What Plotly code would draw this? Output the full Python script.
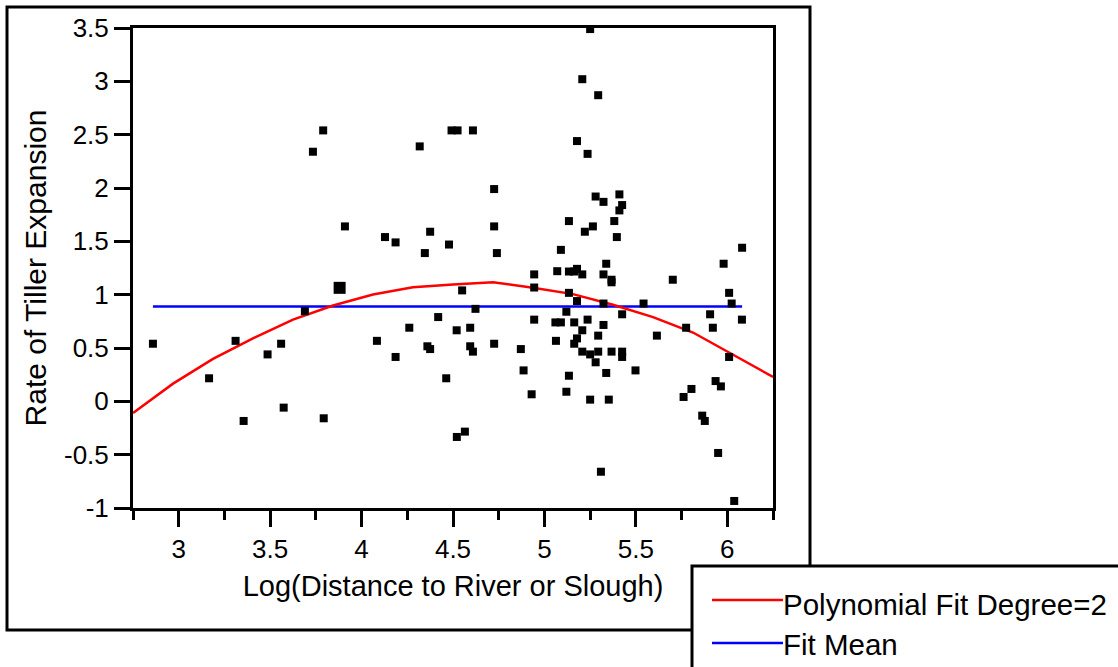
import plotly.graph_objects as go

# ---------------- data ----------------
pts_x = [2.859, 3.166, 3.311, 3.355, 3.486, 3.56, 3.574, 3.69, 3.734, 3.79, 3.793,
         3.909, 4.084, 4.128, 4.186, 4.186, 4.261, 4.318, 4.346, 4.36, 4.375, 4.375,
         4.419, 4.463, 4.478, 4.492, 4.525, 4.52, 4.521, 4.55, 4.565, 4.594, 4.594,
         4.609, 4.609, 4.623, 4.725, 4.725, 4.725, 4.74, 4.871, 4.886, 4.93, 4.944,
         4.944, 4.944, 5.06, 5.063, 5.07, 5.09, 5.09, 5.12, 5.12, 5.134, 5.134, 5.134,
         5.134, 5.163, 5.163, 5.163, 5.178, 5.178, 5.178, 5.178, 5.207, 5.207, 5.207,
         5.207, 5.221, 5.236, 5.236, 5.25, 5.25, 5.25, 5.265, 5.28, 5.28, 5.294, 5.294,
         5.294, 5.309, 5.323, 5.323, 5.323, 5.323, 5.338, 5.338, 5.352, 5.367, 5.367,
         5.367, 5.382, 5.396, 5.41, 5.41, 5.425, 5.425, 5.425, 5.425, 5.498, 5.542,
         5.615, 5.702, 5.761, 5.775, 5.804, 5.863, 5.877, 5.906, 5.921, 5.936, 5.95,
         5.965, 5.98, 6.01, 6.01, 6.024, 6.038, 6.08, 6.081]
pts_y = [0.54, 0.216, 0.567, -0.184, 0.44, 0.54, -0.059, 0.845, 2.34, 2.54, -0.159,
         1.64, 0.567, 1.54, 1.49, 0.416, 0.69, 2.39, 1.39, 0.516, 0.49, 1.59,
         0.79, 0.216, 1.47, 2.54, 2.54, 0.666, -0.334, 1.04, -0.284, 0.69, 0.516,
         0.466, 2.54, 0.867, 1.99, 1.64, 0.54, 1.39, 0.49, 0.29, 0.066, 1.19,
         1.067, 0.766, 0.74, 0.567, 1.22, 1.42, 0.74, 0.84, 0.09, 1.69, 1.217, 1.017,
         0.24, 1.217, 0.74, 0.54, 1.242, 2.44, 0.94, 0.59, 3.02, 1.19, 0.666,
         0.466, 1.59, 2.32, 0.766, 3.49, 0.44, 0.016, 1.64, 1.92, 0.366, 2.87, 0.616,
         0.466, -0.66, 1.87, 1.19, 0.917, 0.716, 1.29, 0.266, 0.016, 1.14, 1.116,
         0.466, 1.69, 1.54, 1.94, 1.79, 1.84, 0.816, 0.466, 0.416, 0.29, 0.917,
         0.616, 1.14, 0.041, 0.69, 0.116, -0.134, -0.184, 0.816, 0.69, 0.19, -0.484,
         0.14, 1.29, 1.017, 0.416, 0.917, -0.934, 0.766, 1.44]

# overlapping (duplicate) observation drawn with a larger marker
dup_x = [3.88]
dup_y = [1.064]

# polynomial fit (degree 2) polyline vertices
poly_x = [2.75, 2.969, 3.1875, 3.406, 3.625, 3.844, 4.0625, 4.281, 4.5, 4.719,
          4.9375, 5.156, 5.375, 5.594, 5.8125, 6.031, 6.25]
poly_y = [-0.109, 0.166, 0.398, 0.591, 0.766, 0.898, 1.001, 1.07, 1.095, 1.117,
          1.064, 1.005, 0.905, 0.79, 0.645, 0.44, 0.229]

fit_mean = 0.89

x_tickvals = [3, 3.5, 4, 4.5, 5, 5.5, 6]
x_ticktext = ["3", "3.5", "4", "4.5", "5", "5.5", "6"]
x_minorvals = [2.75, 3.25, 3.75, 4.25, 4.75, 5.25, 5.75, 6.25]
y_tickvals = [-1, -0.5, 0, 0.5, 1, 1.5, 2, 2.5, 3, 3.5]
y_ticktext = ["-1", "-0.5", "0", "0.5", "1", "1.5", "2", "2.5", "3", "3.5"]

legend_labels = ["Polynomial Fit Degree=2", "Fit Mean"]

# ---------------- figure ----------------
W, H = 1118, 667
L, R, T, B = 133, 345, 28, 159
PW, PH = W - L - R, H - T - B
FONT = "Liberation Sans, Arial, sans-serif"
RED = "#ff0000"
BLUE = "#0000ff"


def px(xpix):
    return (xpix - L) / PW


def py(ypix):
    return (H - B - ypix) / PH


fig = go.Figure()

fig.add_trace(go.Scatter(
    x=[min(pts_x + dup_x), max(pts_x + dup_x)], y=[fit_mean, fit_mean],
    mode="lines", line=dict(color=BLUE, width=2.5), name=legend_labels[1],
    showlegend=False, hoverinfo="skip"))

fig.add_trace(go.Scatter(
    x=poly_x, y=poly_y, mode="lines", line=dict(color=RED, width=2.5),
    name=legend_labels[0], showlegend=False))

fig.add_trace(go.Scatter(
    x=pts_x, y=pts_y, mode="markers",
    marker=dict(symbol="square", size=8, color="black", line=dict(width=0)),
    showlegend=False, name="data"))

fig.add_trace(go.Scatter(
    x=dup_x, y=dup_y, mode="markers",
    marker=dict(symbol="square", size=12, color="black", line=dict(width=0)),
    showlegend=False, name="data"))

axis_common = dict(
    showgrid=False, zeroline=False, showline=True, linecolor="black", linewidth=3,
    mirror=True, ticks="outside", ticklen=16, tickwidth=3, tickcolor="black",
    tickfont=dict(family=FONT, size=26, color="black"),
)

fig.update_xaxes(
    range=[2.75, 6.25], tickmode="array", tickvals=x_tickvals, ticktext=x_ticktext,
    minor=dict(tickmode="array", tickvals=x_minorvals, ticks="outside", ticklen=9,
               tickwidth=3, tickcolor="black", showgrid=False),
    title=dict(text="Log(Distance to River or Slough)",
               font=dict(family=FONT, size=29, color="black"), standoff=13),
    **axis_common)

fig.update_yaxes(
    range=[-1, 3.5], tickmode="array", tickvals=y_tickvals, ticktext=y_ticktext,
    title=dict(text="Rate of Tiller Expansion",
               font=dict(family=FONT, size=30, color="black"), standoff=9),
    **axis_common)

shapes = [
    # outer frame
    dict(type="rect", xref="paper", yref="paper", x0=px(7), x1=px(810), y0=py(630), y1=py(7),
         line=dict(color="black", width=3), fillcolor="rgba(0,0,0,0)", layer="above"),
    # legend box
    dict(type="rect", xref="paper", yref="paper", x0=px(692), x1=px(1130), y0=py(680), y1=py(566),
         line=dict(color="black", width=3), fillcolor="white", layer="above"),
    dict(type="line", xref="paper", yref="paper", x0=px(712), x1=px(783), y0=py(600), y1=py(600),
         line=dict(color=RED, width=2.5), layer="above"),
    dict(type="line", xref="paper", yref="paper", x0=px(712), x1=px(783), y0=py(643), y1=py(643),
         line=dict(color=BLUE, width=2.5), layer="above"),
]

annotations = [
    dict(xref="paper", yref="paper", x=px(781), y=py(604), xanchor="left", yanchor="middle",
         text=legend_labels[0], showarrow=False, font=dict(family=FONT, size=29.5, color="black")),
    dict(xref="paper", yref="paper", x=px(781), y=py(644), xanchor="left", yanchor="middle",
         text=legend_labels[1], showarrow=False, font=dict(family=FONT, size=29.5, color="black")),
]

fig.update_layout(
    width=W, height=H, margin=dict(l=L, r=R, t=T, b=B, autoexpand=False),
    paper_bgcolor="white", plot_bgcolor="white",
    shapes=shapes, annotations=annotations, showlegend=False,
    font=dict(family=FONT, color="black"),
)

fig.write_html("out.html")
